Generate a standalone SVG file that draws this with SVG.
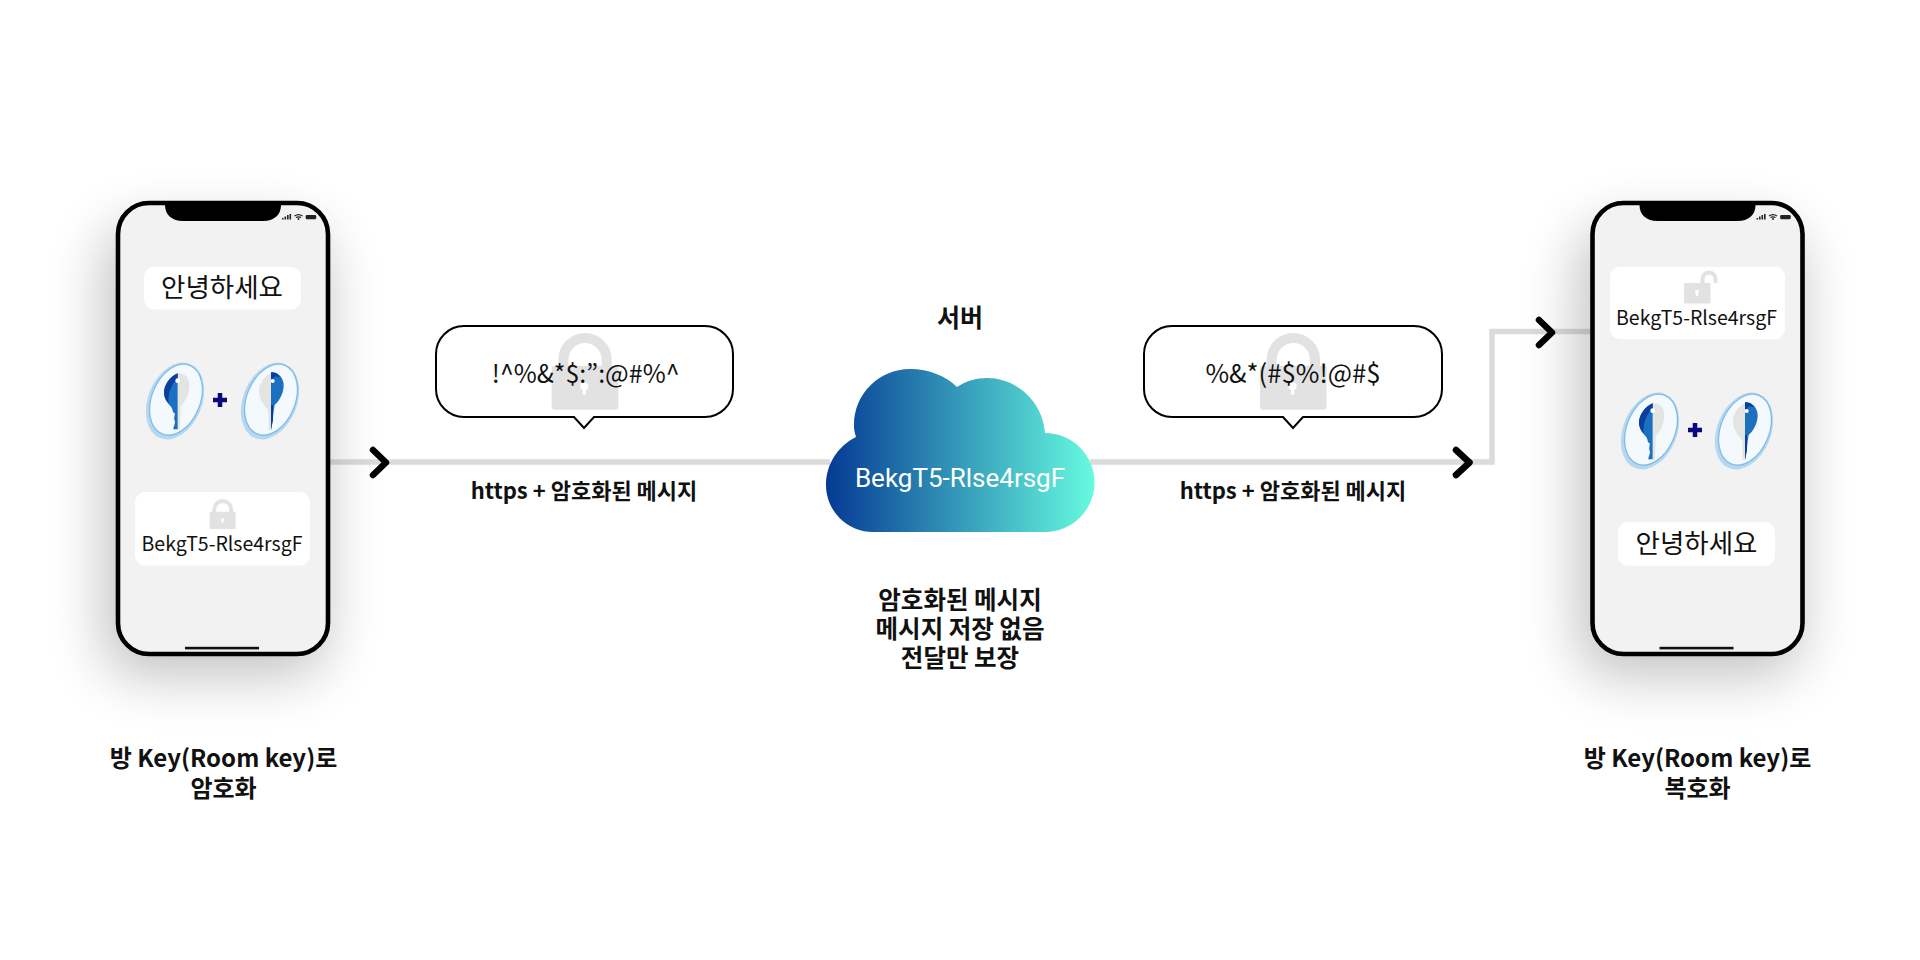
<svg xmlns="http://www.w3.org/2000/svg" width="1920" height="960" viewBox="0 0 1920 960">
<style>
text{font-family:"Noto Sans CJK KR","Noto Sans",sans-serif;fill:#111;text-anchor:middle}
.lbl{font-size:24.5px;font-weight:700}
.cap{font-size:24px;font-weight:700}
.link-lbl{font-size:22px;font-weight:700}
.hello{font-size:26.500px}
.code{font-size:19.500px}
.sym{font-size:25px}
.link{fill:none;stroke:#dcdada;stroke-width:5.500}
.chev{fill:none;stroke:#000;stroke-width:6.500;stroke-linecap:round;stroke-linejoin:round}
.bubble{fill:#fff;stroke:#000;stroke-width:2}
.card{fill:#fff}
.plus{fill:none;stroke:#0a0a80;stroke-width:4.500}
</style>
<defs>
<filter id="soft" x="-50%" y="-50%" width="200%" height="200%"><feGaussianBlur stdDeviation="28"/></filter>
<linearGradient id="cloudFill" x1="0" y1="0" x2="1" y2="0"><stop offset="0" stop-color="#053a94"/><stop offset="1" stop-color="#66fbe0"/></linearGradient>
<g id="phone">
<rect x="104" y="226" width="222" height="450" rx="36" fill="#000" opacity=".24" filter="url(#soft)"/>
<rect x="118" y="203" width="210" height="451" rx="31" fill="#f2f2f2" stroke="#000" stroke-width="4.600"/>
<path d="M165 203H281V205C281 215 274 221 263 221H183C172 221 165 215 165 205Z" fill="#000"/>
<rect x="185" y="646.800" width="74" height="2.600" fill="#111"/>
<path d="M282 218h1.600v1.500h-1.600zM284.500 216.500h1.600v3h-1.600zM287 215h1.600v4.500H287zM289.500 214h1.600v5.500h-1.600z" fill="#222"/>
<path d="M294.500 216a7 7 0 0 1 8 0M296 217.600a4.500 4.500 0 0 1 5 0" fill="none" stroke="#222" stroke-width="1.200"/>
<circle cx="298.500" cy="219" r="1" fill="#222"/>
<rect x="305.700" y="215" width="10.500" height="4.200" rx="1.200" fill="#222"/>
</g>
<g id="lock">
<path d="M35 100V80a65 65 0 0 1 130 0V100" fill="none" stroke="#e2e2e2" stroke-width="30"/>
<rect y="98" width="200" height="132" rx="9" fill="#e2e2e2"/>
<circle cx="98" cy="160" r="12" fill="#fff"/><rect x="93" y="160" width="10" height="26" rx="5" fill="#fff"/>
</g>
<g id="keyA" transform="scale(.3333) translate(-105,-153)">
<ellipse cx="105" cy="153" rx="81" ry="120" transform="rotate(22 105 153)" fill="#b5d8f0"/>
<ellipse cx="108" cy="149" rx="73" ry="111" transform="rotate(22 108 149)" fill="#f3f9fd" stroke="#80bde8" stroke-width="4"/>
<path d="M113 70C135 68 150 85 148 110C146 135 135 155 122 168L120 240H113Z" fill="#e4e4e2"/>
<path d="M113 70C90 80 72 105 72 128C73 150 85 160 93 170C100 178 95 184 104 190C106 196 100 203 104 212C108 220 100 228 100 238H113Z" fill="#1c70c0"/>
<path d="M113 70C90 80 72 105 72 128C73 145 80 153 86 160C82 135 95 100 113 85Z" fill="#0b3f9e"/>
<circle cx="113" cy="92" r="7" fill="#fff"/>
</g>
<g id="keyB" transform="scale(.3333) translate(-390,-153)">
<ellipse cx="390" cy="153" rx="81" ry="120" transform="rotate(22 390 153)" fill="#b5d8f0"/>
<ellipse cx="393" cy="149" rx="73" ry="111" transform="rotate(22 393 149)" fill="#f3f9fd" stroke="#80bde8" stroke-width="4"/>
<path d="M393 70C370 80 355 105 357 130C359 150 372 165 380 175C388 185 385 195 386 240H393Z" fill="#e4e4e2"/>
<path d="M393 67C415 65 432 85 431 108C430 135 415 155 404 165C400 185 399 215 393 240Z" fill="#1c70c0"/>
<path d="M393 67C405 65 415 72 420 82C410 78 400 78 398 90L393 90Z" fill="#0b3f9e"/>
<path d="M393 165H399V210L393 240Z" fill="#0b3f9e"/>
<circle cx="398" cy="93" r="6" fill="#fff"/>
</g>
</defs>

<g id="connectors">
<path class="link" d="M330 462H830"/>
<path class="link" d="M1090 462H1492V331.500H1590"/>
<path class="chev" d="M373 450L386 462.500L373 475"/>
<path class="chev" d="M1456 450L1469.500 462.500L1456 475"/>
<path class="chev" d="M1539 320L1552 332.500L1539 345"/>
</g>

<g id="sender-phone">
<use href="#phone"/>
<rect class="card" x="144" y="266.700" width="157" height="42.800" rx="10"/>
<text class="hello" x="222" y="297">안녕하세요</text>
<use href="#keyA" transform="translate(175,401)"/>
<path class="plus" d="M213 400H227M220 393V407"/>
<use href="#keyB" transform="translate(270,401)"/>
<rect class="card" x="135" y="492" width="175" height="73.500" rx="10"/>
<use href="#lock" transform="translate(209.700,499) scale(.13)"/>
<text class="code" x="222" y="551">BekgT5-Rlse4rsgF</text>
</g>
<g id="sender-label">
<text class="cap" x="223.500" y="767">방 Key(Room key)로</text>
<text class="cap" x="223.500" y="797">암호화</text>
</g>

<g id="bubble-left">
<path class="bubble" d="M464 326H705A28 28 0 0 1 733 354V389A28 28 0 0 1 705 417H594L584 428L574 417H464A28 28 0 0 1 436 389V354A28 28 0 0 1 464 326Z"/>
<use href="#lock" transform="translate(551.700,333) scale(.3333)"/>
<text class="sym" x="585.700" y="383">!^%&amp;*$:”:@#%^</text>
<text class="link-lbl" x="584" y="499">https + 암호화된 메시지</text>
</g>

<g id="server">
<path d="M873 532A47 47 0 0 1 826 485C826 464 838 446 856 437C854 430 854 428 854 425C854 394 879 369 910 369C929 369 946 376 957 387C966 381 976 378 987 378C1018 378 1043 403 1045 433A49.500 49.500 0 0 1 1045 532Z" fill="url(#cloudFill)"/>
<text x="960" y="486.500" font-size="26" style="fill:#fff;font-family:Roboto,'Noto Sans',sans-serif">BekgT5-Rlse4rsgF</text>
<text class="lbl" x="960" y="326.500" style="font-size:25px">서버</text>
<text class="lbl" x="960" y="609">암호화된 메시지</text>
<text class="lbl" x="960" y="638">메시지 저장 없음</text>
<text class="lbl" x="960" y="667">전달만 보장</text>
</g>

<g id="bubble-right">
<path class="bubble" d="M1172 326H1414A28 28 0 0 1 1442 354V389A28 28 0 0 1 1414 417H1303L1293 428L1283 417H1172A28 28 0 0 1 1144 389V354A28 28 0 0 1 1172 326Z"/>
<use href="#lock" transform="translate(1260,333) scale(.3333)"/>
<text class="sym" x="1293" y="383" style="font-size:25.700px">%&amp;*(#$%!@#$</text>
<text class="link-lbl" x="1293" y="499">https + 암호화된 메시지</text>
</g>

<g id="receiver-phone">
<use href="#phone" transform="translate(1474.500,0)"/>
<rect class="card" x="1610" y="266.700" width="175" height="72.500" rx="10"/>
<path d="M1702.500 283V279A6.500 6.500 0 0 1 1715.500 279V283" fill="none" stroke="#e2e2e2" stroke-width="4"/>
<rect x="1684" y="283" width="26.500" height="20.500" rx="1.500" fill="#e2e2e2"/>
<circle cx="1697" cy="292" r="2" fill="#fff"/><rect x="1696" y="292" width="2" height="4" fill="#fff"/>
<text class="code" x="1696.500" y="325">BekgT5-Rlse4rsgF</text>
<use href="#keyA" transform="translate(1650,431)"/>
<path class="plus" d="M1688 430H1702M1695 423V437"/>
<use href="#keyB" transform="translate(1744,431)"/>
<rect class="card" x="1618" y="522" width="157" height="43.700" rx="10"/>
<text class="hello" x="1696.500" y="553">안녕하세요</text>
</g>
<g id="receiver-label">
<text class="cap" x="1697.500" y="767">방 Key(Room key)로</text>
<text class="cap" x="1697.500" y="797">복호화</text>
</g>
</svg>
